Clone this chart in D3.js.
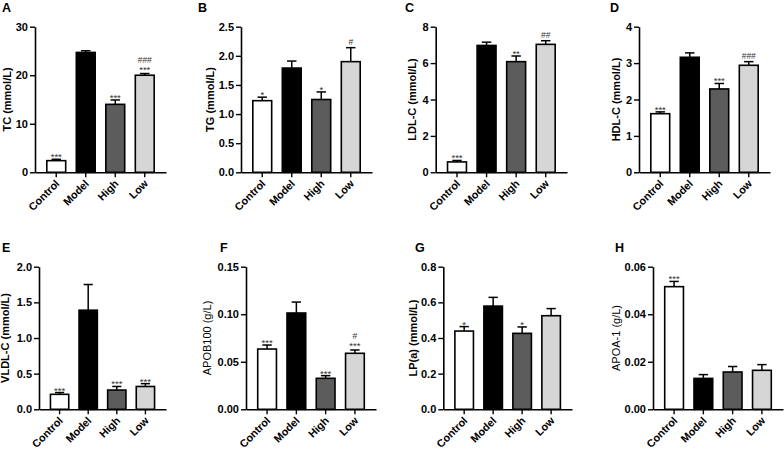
<!DOCTYPE html>
<html>
<head>
<meta charset="utf-8">
<script src="https://cdn.jsdelivr.net/npm/d3@7"></script>
<style>
  html, body { margin: 0; padding: 0; background: #fff; }
  svg { display: block; font-family: "Liberation Sans", Arial, sans-serif; }
</style>
</head>
<body>
<svg id="chart" width="784" height="453"></svg>
<script>
// ---------- DATA ----------
const categories = ["Control", "Model", "High", "Low"];
const barColors = ["#ffffff", "#000000", "#5c5c5c", "#d6d6d6"];

const panelLetters = ["A", "B", "C", "D", "E", "F", "G", "H"];
const yTitles = ["TC (mmol/L)", "TG (mmol/L)", "LDL-C (mmol/L)", "HDL-C (mmol/L)",
                 "VLDL-C (mmol/L)", "APOB100 (g/L)", "LP(a) (mmol/L)", "APOA-1 (g/L)"];

const tcMean = [2.4, 24.7, 14.0, 20.0];
const tcSem  = [0.28, 0.35, 0.9, 0.35];
const tcSig  = ["***", "", "***", "###\n***"];
const tcTicks = [0, 10, 20, 30];

const tgMean = [1.23, 1.79, 1.25, 1.90];
const tgSem  = [0.06, 0.12, 0.13, 0.24];
const tgSig  = ["*", "", "*", "#"];
const tgTicks = [0, 0.5, 1.0, 1.5, 2.0, 2.5];

const ldlMean = [0.57, 6.97, 6.08, 7.03];
const ldlSem  = [0.08, 0.18, 0.31, 0.20];
const ldlSig  = ["***", "", "**", "##"];
const ldlTicks = [0, 2, 4, 6, 8];

const hdlMean = [1.61, 3.16, 2.29, 2.94];
const hdlSem  = [0.05, 0.12, 0.15, 0.10];
const hdlSig  = ["***", "", "***", "###"];
const hdlTicks = [0, 1, 2, 3, 4];

const vldlMean = [0.21, 1.39, 0.27, 0.32];
const vldlSem  = [0.025, 0.36, 0.05, 0.04];
const vldlSig  = ["***", "", "***", "***"];
const vldlTicks = [0, 0.5, 1.0, 1.5, 2.0];

const apobMean = [0.0634, 0.1013, 0.0326, 0.0589];
const apobSem  = [0.0042, 0.0115, 0.0028, 0.0035];
const apobSig  = ["***", "", "***", "#\n***"];
const apobTicks = [0, 0.05, 0.10, 0.15];

const lpaMean = [0.439, 0.579, 0.426, 0.525];
const lpaSem  = [0.025, 0.049, 0.036, 0.040];
const lpaSig  = ["*", "", "*", ""];
const lpaTicks = [0, 0.2, 0.4, 0.6, 0.8];

const apoaMean = [0.0516, 0.0130, 0.0157, 0.0164];
const apoaSem  = [0.0022, 0.0016, 0.0023, 0.0024];
const apoaSig  = ["***", "", "", ""];
const apoaTicks = [0, 0.02, 0.04, 0.06];

const tickFormats = [".0f", ".1f", ".0f", ".0f", ".1f", ".2f", ".1f", ".2f"];

// ---------- LAYOUT (positions only) ----------
const rows = [{ y0: 172.3, yTop: 26.7, letterY: 11.5 }, { y0: 409.3, yTop: 266.7, letterY: 251.5 }];
const layout = [
  { row: 0, axisX: 35,    axisEnd: 166,   letterX: 2,   titleX: 8,   titleBold: true },
  { row: 0, axisX: 241,   axisEnd: 372,   letterX: 198, titleX: 211, titleBold: true },
  { row: 0, axisX: 435.7, axisEnd: 567,   letterX: 405, titleX: 413, titleBold: true },
  { row: 0, axisX: 639,   axisEnd: 770,   letterX: 610, titleX: 617, titleBold: true },
  { row: 1, axisX: 39,    axisEnd: 166,   letterX: 2,   titleX: 6,   titleBold: true },
  { row: 1, axisX: 246,   axisEnd: 376,   letterX: 220, titleX: 208, titleBold: false },
  { row: 1, axisX: 443.3, axisEnd: 572,   letterX: 415, titleX: 414, titleBold: true },
  { row: 1, axisX: 653,   axisEnd: 783,   letterX: 615, titleX: 617, titleBold: false }
];

const panels = [
  { mean: tcMean,   sem: tcSem,   sig: tcSig,   ticks: tcTicks },
  { mean: tgMean,   sem: tgSem,   sig: tgSig,   ticks: tgTicks },
  { mean: ldlMean,  sem: ldlSem,  sig: ldlSig,  ticks: ldlTicks },
  { mean: hdlMean,  sem: hdlSem,  sig: hdlSig,  ticks: hdlTicks },
  { mean: vldlMean, sem: vldlSem, sig: vldlSig, ticks: vldlTicks },
  { mean: apobMean, sem: apobSem, sig: apobSig, ticks: apobTicks },
  { mean: lpaMean,  sem: lpaSem,  sig: lpaSig,  ticks: lpaTicks },
  { mean: apoaMean, sem: apoaSem, sig: apoaSig, ticks: apoaTicks }
];

const svg = d3.select("#chart");
const FONT = "Liberation Sans, Arial, sans-serif";

panels.forEach((p, k) => {
  const L = layout[k];
  const R = rows[L.row];
  const g = svg.append("g");

  const y = d3.scaleLinear()
    .domain([0, d3.max(p.ticks)])
    .range([R.y0, R.yTop]);
  const x = d3.scaleBand()
    .domain(categories)
    .range([L.axisX, L.axisEnd])
    .paddingInner(0.36)
    .paddingOuter(0.4);
  const bw = x.bandwidth();

  const rowsData = categories.map((c, i) => ({ c, i, m: p.mean[i], s: p.sem[i], sig: p.sig[i] }));

  // error bars
  g.selectAll("line.err").data(rowsData).join("line")
    .attr("x1", d => x(d.c) + bw / 2).attr("x2", d => x(d.c) + bw / 2)
    .attr("y1", d => y(d.m)).attr("y2", d => y(d.m + d.s))
    .attr("stroke", "#000").attr("stroke-width", 1.5);
  g.selectAll("line.cap").data(rowsData).join("line")
    .attr("x1", d => x(d.c) + bw * 0.25).attr("x2", d => x(d.c) + bw * 0.75)
    .attr("y1", d => y(d.m + d.s)).attr("y2", d => y(d.m + d.s))
    .attr("stroke", "#000").attr("stroke-width", 1.5);

  // bars
  g.selectAll("rect.bar").data(rowsData).join("rect")
    .attr("x", d => x(d.c))
    .attr("y", d => y(d.m))
    .attr("width", bw)
    .attr("height", d => R.y0 - y(d.m))
    .attr("fill", d => barColors[d.i])
    .attr("stroke", "#000")
    .attr("stroke-width", 1.6);

  // significance marks
  rowsData.forEach(d => {
    if (!d.sig) return;
    const lines = d.sig.split("\n");
    const top = y(d.m + d.s);
    const cx = x(d.c) + bw / 2;
    if (lines.length === 1) {
      const isStar = lines[0][0] === "*";
      g.append("text")
        .attr("x", cx).attr("y", isStar ? top + 1 : top - 2.5)
        .attr("text-anchor", "middle")
        .attr("font-size", isStar ? 9.5 : 8.5)
        .attr("fill", "#333")
        .text(lines[0]);
    } else {
      const t = g.append("text")
        .attr("x", cx).attr("y", top - 10.5)
        .attr("text-anchor", "middle")
        .attr("fill", "#333");
      t.append("tspan").attr("x", cx).attr("font-size", 8.5).text(lines[0]);
      t.append("tspan").attr("x", cx).attr("dy", 9.5).attr("font-size", 9.5).text(lines[1]);
    }
  });

  // y axis
  const yAxis = d3.axisLeft(y)
    .tickValues(p.ticks)
    .tickFormat(d3.format(tickFormats[k]))
    .tickSize(5).tickSizeOuter(0).tickPadding(2);
  const ya = g.append("g").attr("transform", `translate(${L.axisX},0)`).call(yAxis);
  ya.select(".domain").attr("stroke-width", 1.6);
  ya.selectAll(".tick line").attr("stroke-width", 1.4);
  ya.selectAll(".tick text")
    .attr("font-size", 11).attr("font-weight", "bold").attr("fill", "#000")
    .attr("font-family", FONT);

  // x axis
  const xAxis = d3.axisBottom(x).tickSize(5).tickSizeOuter(0).tickPadding(2);
  const xa = g.append("g").attr("transform", `translate(0,${R.y0})`).call(xAxis);
  xa.select(".domain").attr("stroke-width", 1.6);
  xa.selectAll(".tick line").attr("stroke-width", 1.4);
  xa.selectAll(".tick text")
    .attr("font-size", 10.8).attr("font-weight", "bold").attr("fill", "#000")
    .attr("font-family", FONT)
    .attr("text-anchor", "end")
    .attr("dy", null)
    .attr("y", 0)
    .attr("transform", "translate(4,12) rotate(-45)");

  // y title
  g.append("text")
    .attr("transform", `translate(${L.titleX},${(R.y0 + R.yTop) / 2}) rotate(-90)`)
    .attr("text-anchor", "middle")
    .attr("dominant-baseline", "middle")
    .attr("font-size", 11)
    .attr("font-weight", L.titleBold ? "bold" : "normal")
    .attr("fill", "#000")
    .text(yTitles[k]);

  // panel letter
  g.append("text")
    .attr("x", L.letterX).attr("y", R.letterY)
    .attr("font-size", 12.5).attr("font-weight", "bold").attr("fill", "#000")
    .text(panelLetters[k]);
});
</script>
</body>
</html>
